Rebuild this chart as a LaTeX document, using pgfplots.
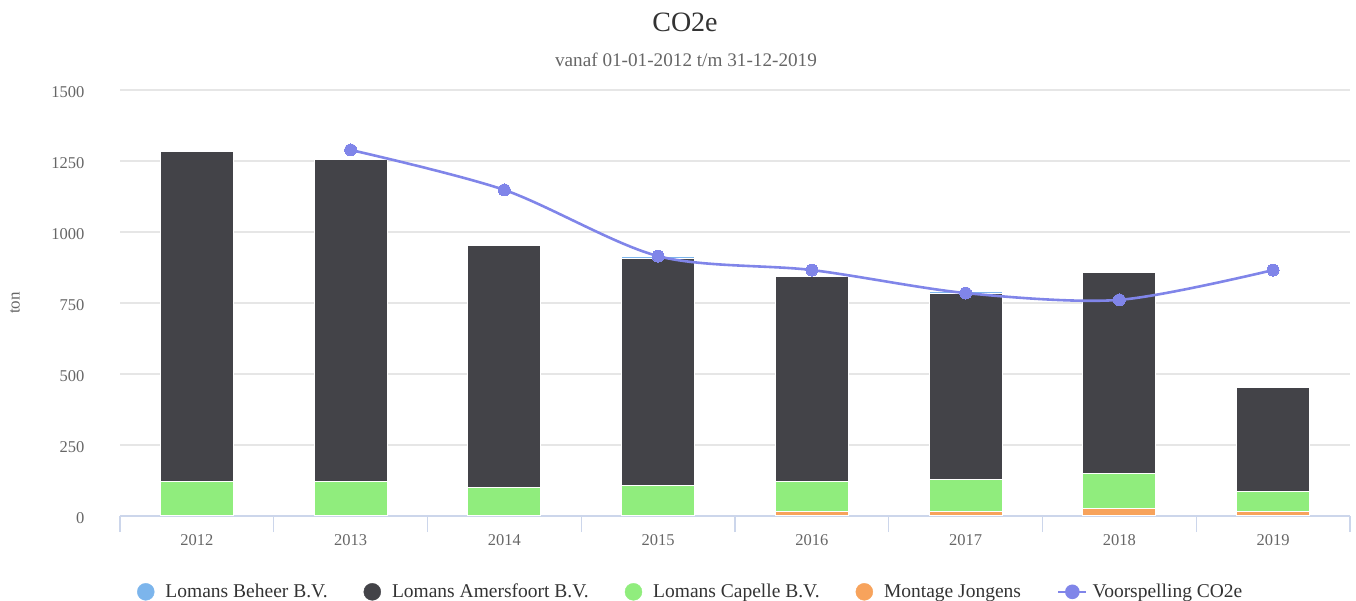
\documentclass[border=0pt]{standalone}
\usepackage{fontspec}
\setmainfont{Liberation Serif}
\usepackage{pgfplots}
\pgfplotsset{compat=1.18}
\definecolor{cBeheer}{HTML}{7CB5EC}
\definecolor{cAmers}{HTML}{434348}
\definecolor{cCapelle}{HTML}{90ED7D}
\definecolor{cMontage}{HTML}{F7A35C}
\definecolor{cVoor}{HTML}{8085E9}
\definecolor{gridc}{HTML}{E6E6E6}
\definecolor{axc}{HTML}{CCD6EB}
\definecolor{labc}{HTML}{666666}
\definecolor{titc}{HTML}{333333}
\pgfplotsset{
  common/.style={
    at={(0,0)}, anchor=south west, scale only axis,
    width=1230pt, height=426pt,
    xmin=-0.5, xmax=7.5, ymin=0, ymax=1500,
  }
}
\begin{document}
\begin{tikzpicture}[x=1pt,y=1pt]
\path[use as bounding box] (-120,-85) rectangle (1236,516);
\begin{axis}[common,
  ybar stacked, bar width=73pt,
  ytick={0,250,500,750,1000,1250,1500},
  yticklabels={0,250,500,750,1000,1250,1500},
  xtick={-0.5,0.5,...,7.5},
  xticklabels={},
  extra x ticks={0,1,2,3,4,5,6,7},
  extra x tick labels={2012,2013,2014,2015,2016,2017,2018,2019},
  extra x tick style={major tick length=0pt, grid=none},
  xtick style={draw=axc, line width=1.2pt},
  major tick length=16pt,
  ytick style={draw=none},
  tick align=outside,
  axis lines*=left,
  x axis line style={draw=axc, line width=1.4pt, -},
  y axis line style={draw=none},
  ymajorgrids, grid style={draw=gridc, line width=1.2pt},
  ticklabel style={font=\fontsize{16.5}{20}\selectfont, text=labc},
  xticklabel style={yshift=-15pt},
  yticklabel style={xshift=-16pt, yshift=-2pt},
  ylabel={ton},
  ylabel style={at={(axis description cs:-0.0854,0.5)}, anchor=center, font=\fontsize{17}{20}\selectfont, text=labc},
  every axis plot/.append style={draw=white, line width=1pt},
]
\addplot[fill=cMontage] coordinates {(0,0) (1,0) (2,0) (3,0) (4,17) (5,17) (6,27) (7,17)};
\addplot[fill=cCapelle] coordinates {(0,120) (1,120) (2,102) (3,109) (4,103) (5,110) (6,121) (7,71)};
\addplot[fill=cAmers] coordinates {(0,1162) (1,1134) (2,849) (3,796) (4,725) (5,658) (6,708) (7,363)};
\addplot[fill=cBeheer] coordinates {(0,0) (1,0) (2,0) (3,10) (4,0) (5,5) (6,0) (7,0)};
\end{axis}
\begin{axis}[common, hide axis,
  legend columns=5,
  legend cell align=left,
  legend style={draw=none, fill=none, at={(axis description cs:0.464,-0.178)}, anchor=center,
    font=\fontsize{19.5}{22}\selectfont, text=titc,
    /tikz/every even column/.append style={column sep=34pt}},
]
\addlegendimage{legend image code/.code={\fill[cBeheer] (4pt,0) circle (8.5pt); \path (21.5pt,0);}}
\addlegendentry{Lomans Beheer B.V.}
\addlegendimage{legend image code/.code={\fill[cAmers] (4pt,0) circle (8.5pt); \path (21.5pt,0);}}
\addlegendentry{Lomans Amersfoort B.V.}
\addlegendimage{legend image code/.code={\fill[cCapelle] (4pt,0) circle (8.5pt); \path (21.5pt,0);}}
\addlegendentry{Lomans Capelle B.V.}
\addlegendimage{legend image code/.code={\fill[cMontage] (4pt,0) circle (8.5pt); \path (21.5pt,0);}}
\addlegendentry{Montage Jongens}
\addplot[smooth, color=cVoor, line width=2.6pt, mark=*, mark size=6pt, mark options={fill=cVoor, draw=cVoor, line width=0pt},
  legend image code/.code={\draw[cVoor, line width=2.6pt] (-14pt,0) -- (14pt,0); \fill[cVoor] (0pt,0) circle (6pt); \path (17pt,0);}]
  coordinates {(1,1289) (2,1148) (3,915) (4,866) (5,785) (6,761) (7,866)};
\addlegendentry{Voorspelling CO2e}
\end{axis}
\node[font=\fontsize{28}{34}\selectfont, text=titc] at (565,494) {CO2e};
\node[font=\fontsize{19.2}{22}\selectfont, text=labc] at (566,456) {vanaf 01-01-2012 t/m 31-12-2019};
\end{tikzpicture}
\end{document}
